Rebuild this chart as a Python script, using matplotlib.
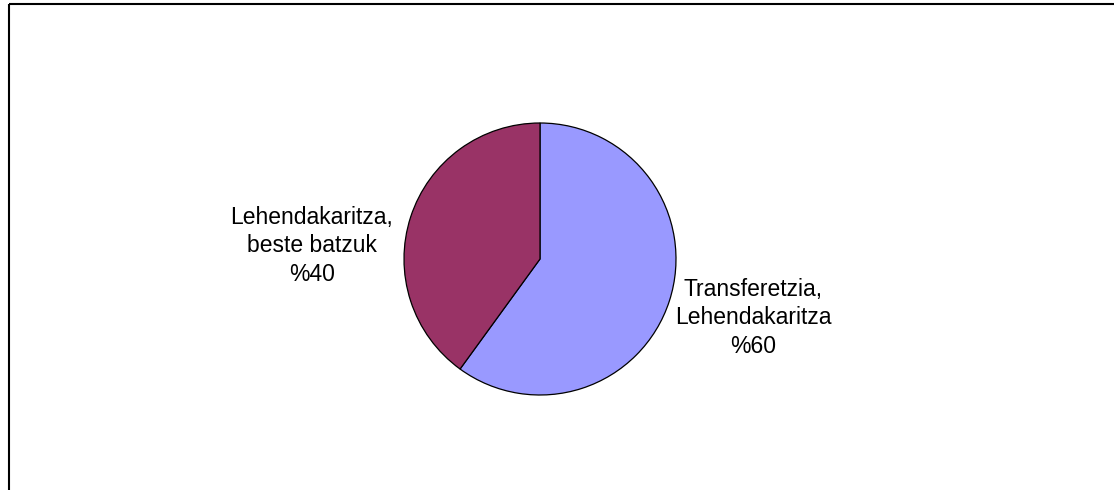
import matplotlib
matplotlib.use("Agg")
import matplotlib.pyplot as plt

# ---- data ----
labels = ["Transferetzia,\nLehendakaritza", "Lehendakaritza,\nbeste batzuk"]
shares = [60, 40]
colors = ["#9999FF", "#993366"]

W, H = 1114, 490
fig = plt.figure(figsize=(W / 100, H / 100), dpi=100)
ax = fig.add_axes([0, 0, 1, 1])

# pixel-space layout (y measured upward)
cx, cy, r = 540, H - 259, 136
ax.pie(shares, colors=colors, startangle=90, counterclock=False,
       center=(cx, cy), radius=r, frame=True,
       wedgeprops=dict(edgecolor="black", linewidth=0.9))
ax.set_xlim(0, W)
ax.set_ylim(0, H)
ax.set_aspect("equal")
ax.axis("off")

label_pos = [(753, H - 318), (312, H - 246)]
for (x, y), lab, v in zip(label_pos, labels, shares):
    ax.text(x, y, f"{lab}\n%{v}", ha="center", va="center", multialignment="center",
            fontsize=16.5, family="Liberation Sans", color="black", linespacing=1.3)

# chart-area frame (top and left edges only)
ax.plot([8.5, W], [H - 4, H - 4], color="black", lw=1.5, solid_capstyle="butt")
ax.plot([8.5, 8.5], [0, H - 4], color="black", lw=1.5, solid_capstyle="butt")

fig.savefig("out.png", dpi=100)
